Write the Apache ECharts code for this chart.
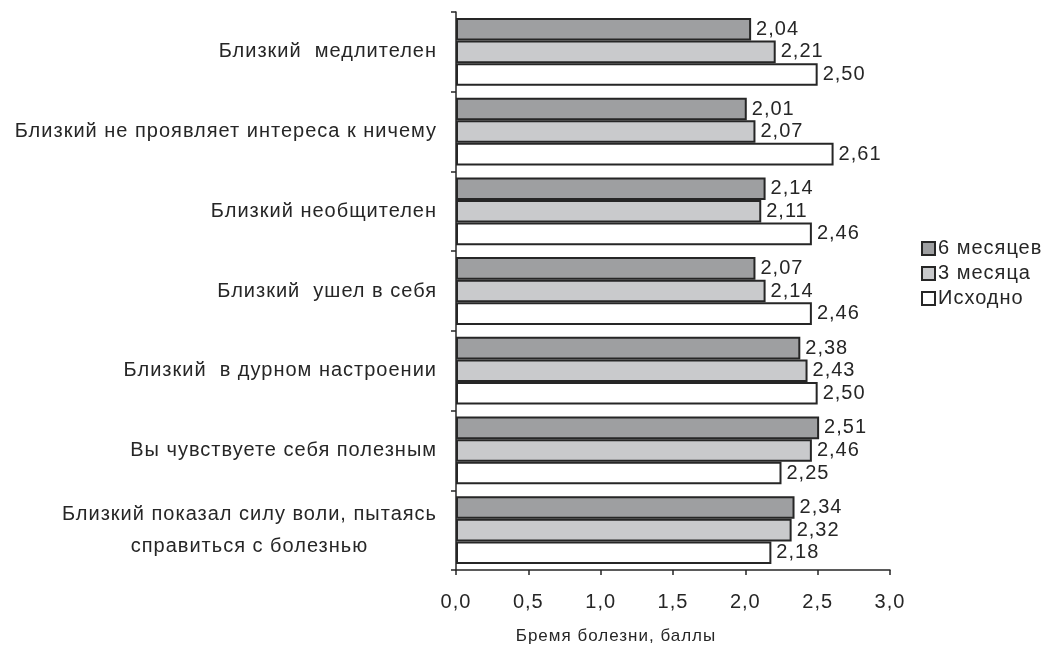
<!DOCTYPE html>
<html>
<head>
<meta charset="utf-8">
<script src="https://cdn.jsdelivr.net/npm/echarts@6/dist/echarts.min.js"></script>
<style>
  html, body { margin: 0; padding: 0; background: #fff; }
  #chart { width: 1050px; height: 650px; }
</style>
</head>
<body>
<div id="chart"></div>
<script>
// Items of the questionnaire (top to bottom)
const categories = [
  'Близкий  медлителен',
  'Близкий не проявляет интереса к ничему',
  'Близкий необщителен',
  'Близкий  ушел в себя',
  'Близкий  в дурном настроении',
  'Вы чувствуете себя полезным',
  'Близкий показал силу воли, пытаясь\nсправиться с болезнью'
];
const seriesNames = ['6 месяцев', '3 месяца', 'Исходно'];
const months6 = [2.04, 2.01, 2.14, 2.07, 2.38, 2.51, 2.34];
const months3 = [2.21, 2.07, 2.11, 2.14, 2.43, 2.46, 2.32];
const baseline = [2.50, 2.61, 2.46, 2.46, 2.50, 2.25, 2.18];
const xTicks = [0, 0.5, 1, 1.5, 2, 2.5, 3];
const axisTitle = 'Бремя болезни, баллы';

const fills = ['#9e9fa1', '#c9cacc', '#ffffff'];
const comma = (v, d) => Number(v).toFixed(d).replace('.', ',');
const FONT = 'Liberation Sans, Arial, sans-serif';
const INK = '#262626';

// Slightly tracked-out lettering for all chart text (measurement and drawing alike)
const LETTER_SPACING = '1px';
(function () {
  const proto = CanvasRenderingContext2D.prototype;
  ['fillText', 'strokeText', 'measureText'].forEach(fn => {
    const orig = proto[fn];
    proto[fn] = function () {
      if ('letterSpacing' in this) this.letterSpacing = LETTER_SPACING;
      return orig.apply(this, arguments);
    };
  });
})();

function makeSeries(name, data, color) {
  return {
    name: name,
    type: 'bar',
    data: data,
    barGap: '0%',
    barCategoryGap: '15%',
    itemStyle: { color: color, borderColor: INK, borderWidth: 2 },
    label: {
      show: true,
      position: 'right',
      distance: 5,
      fontFamily: FONT,
      fontSize: 20,
      color: INK,
      formatter: p => comma(p.value, 2)
    }
  };
}

const chart = echarts.init(document.getElementById('chart'), null, { renderer: 'canvas' });
chart.setOption({
  animation: false,
  backgroundColor: '#ffffff',
  textStyle: { fontFamily: FONT },
  grid: { left: 456, right: 160, top: 12, bottom: 80, containLabel: false },
  legend: {
    orient: 'vertical',
    left: 916,
    top: 233,
    itemWidth: 13,
    itemHeight: 13,
    itemGap: 4,
    icon: 'rect',
    data: seriesNames,
    textStyle: { fontFamily: FONT, fontSize: 20, color: INK, padding: [0, 0, 0, -2] }
  },
  xAxis: {
    type: 'value',
    min: xTicks[0],
    max: xTicks[xTicks.length - 1],
    interval: xTicks[1] - xTicks[0],
    name: axisTitle,
    nameLocation: 'middle',
    nameGap: 57,
    nameTextStyle: { fontFamily: FONT, fontSize: 17, color: INK, padding: [0, 114, 0, 0] },
    axisLine: { show: true, lineStyle: { color: INK, width: 1.5 } },
    axisTick: { show: true, inside: false, length: 5, lineStyle: { color: INK, width: 1.5 } },
    splitLine: { show: false },
    axisLabel: {
      margin: 22,
      fontFamily: FONT,
      fontSize: 20,
      color: INK,
      formatter: v => comma(v, 1)
    }
  },
  yAxis: {
    type: 'category',
    inverse: true,
    data: categories,
    axisLine: { show: true, lineStyle: { color: INK, width: 1.5 } },
    axisTick: { show: true, inside: false, length: 5, interval: 0, lineStyle: { color: INK, width: 1.5 } },
    axisLabel: {
      interval: 0,
      margin: 19,
      fontFamily: FONT,
      fontSize: 20,
      color: INK,
      lineHeight: 32,
      formatter: v => v.split('\n').map(s => '{c|' + s + '}').join('\n'),
      rich: { c: { align: 'center', fontFamily: FONT, fontSize: 20, color: INK, lineHeight: 32 } }
    }
  },
  series: [
    makeSeries(seriesNames[0], months6, fills[0]),
    makeSeries(seriesNames[1], months3, fills[1]),
    makeSeries(seriesNames[2], baseline, fills[2])
  ]
});
</script>
</body>
</html>
